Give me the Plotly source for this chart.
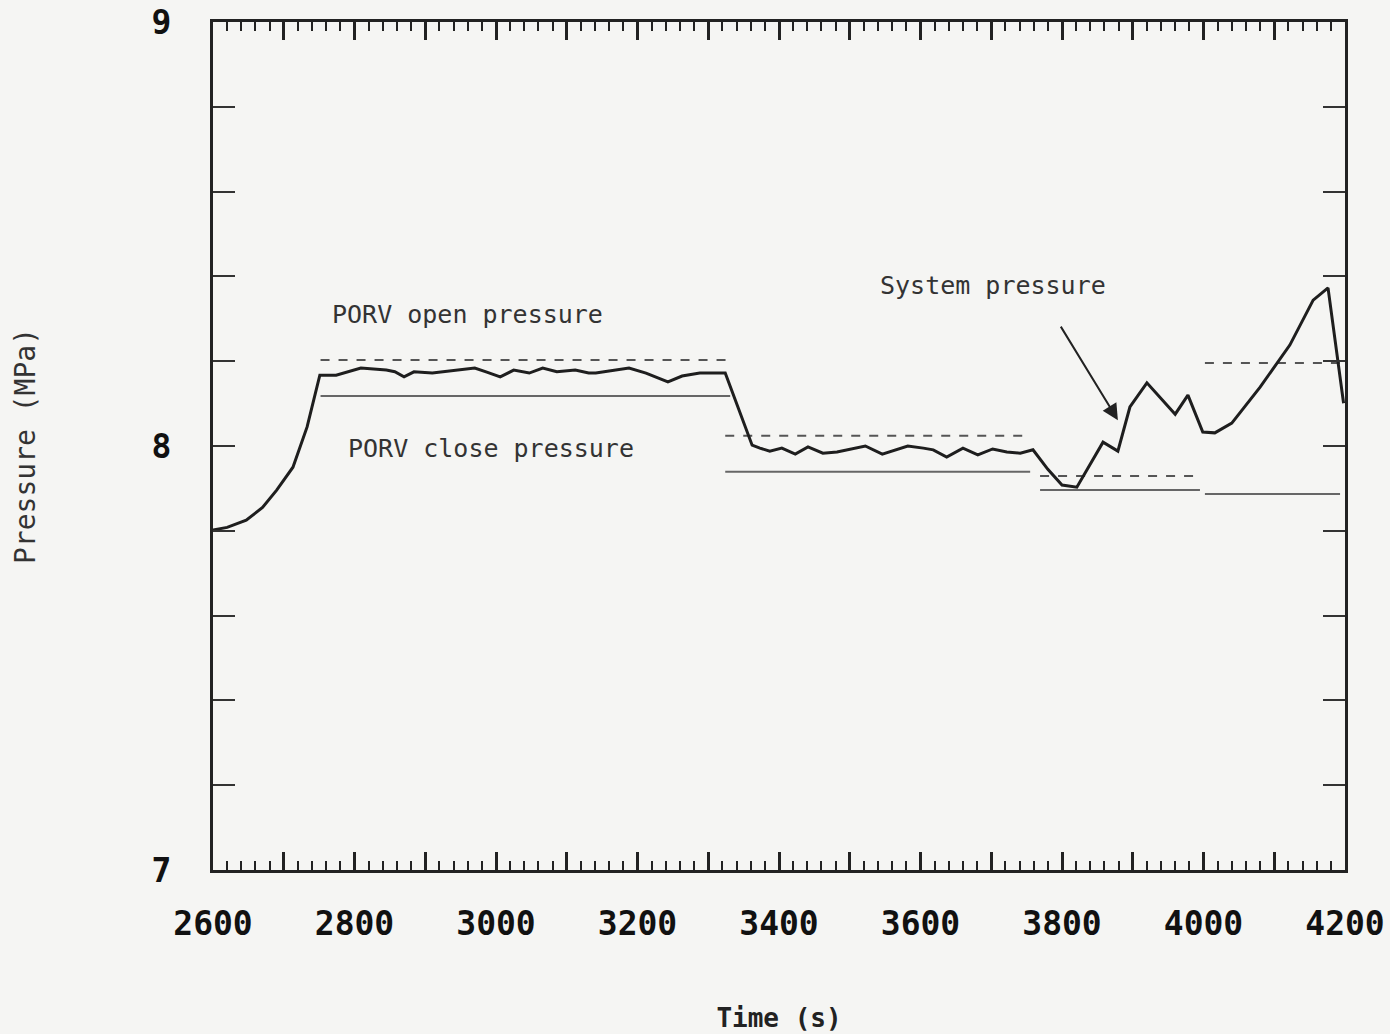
import plotly.graph_objects as go

# System pressure curve (time s, pressure MPa)
time_s = [2600, 2620, 2647, 2670, 2690, 2713, 2733, 2751, 2774, 2809, 2845, 2857, 2870, 2884,
          2910, 2945, 2970, 2986, 3006, 3025, 3047, 3066, 3086, 3112, 3131, 3141, 3188, 3212,
          3243, 3263, 3288, 3324, 3362, 3373, 3387, 3404, 3423, 3441, 3462, 3482, 3498, 3522,
          3546, 3564, 3582, 3604, 3618, 3637, 3660, 3681, 3702, 3722, 3741, 3759, 3780, 3800,
          3821, 3858, 3879, 3896, 3920, 3960, 3978, 3999, 4016, 4040, 4080, 4122, 4155, 4176,
          4198]
pressure = [7.802, 7.808, 7.825, 7.855, 7.896, 7.950, 8.045, 8.167, 8.167, 8.184, 8.179, 8.175,
            8.163, 8.175, 8.172, 8.179, 8.184, 8.175, 8.163, 8.179, 8.172, 8.184, 8.175, 8.179,
            8.172, 8.172, 8.184, 8.172, 8.151, 8.165, 8.172, 8.172, 8.002, 7.995, 7.988, 7.995,
            7.981, 7.998, 7.983, 7.986, 7.991, 8.000, 7.981, 7.991, 8.000, 7.995, 7.991, 7.974,
            7.995, 7.979, 7.993, 7.986, 7.983, 7.991, 7.945, 7.908, 7.903, 8.009, 7.988, 8.092,
            8.149, 8.075, 8.120, 8.033, 8.031, 8.054, 8.139, 8.238, 8.344, 8.373, 8.101]

# PORV set points per interval: (start, end, open, close)
seg_start = [2752, 3324, 3769, 4002]
seg_end = [3331, 3755, 3995, 4193]
porv_open = [8.203, 8.024, 7.929, 8.196]
porv_close = [8.118, 7.939, 7.896, 7.887]

x_major = list(range(2600, 4201, 100))
x_labels = [str(v) if v % 200 == 0 else "" for v in x_major]
y_major = [7.0, 7.2, 7.4, 7.6, 7.8, 8.0, 8.2, 8.4, 8.6, 8.8, 9.0]
y_labels = ["7", "", "", "", "", "8", "", "", "", "", "9"]

fig = go.Figure()

for s, e, po, pc in zip(seg_start, seg_end, porv_open, porv_close):
    fig.add_trace(go.Scatter(x=[s, e], y=[po, po], mode="lines",
                             line=dict(color="#555555", width=2, dash="dash"),
                             showlegend=False, hoverinfo="skip"))
    fig.add_trace(go.Scatter(x=[s, e], y=[pc, pc], mode="lines",
                             line=dict(color="#666666", width=2),
                             showlegend=False, hoverinfo="skip"))

fig.add_trace(go.Scatter(x=time_s, y=pressure, mode="lines",
                         line=dict(color="#1e1e1e", width=3),
                         showlegend=False))

ann_font = dict(family="DejaVu Sans Mono", size=25, color="#333333")
fig.add_annotation(x=2765, y=8.31, text="PORV open pressure", showarrow=False,
                   xanchor="left", font=ann_font)
fig.add_annotation(x=2788, y=7.995, text="PORV close pressure", showarrow=False,
                   xanchor="left", font=ann_font)
fig.add_annotation(x=3540, y=8.378, text="System pressure", showarrow=False,
                   xanchor="left", font=ann_font)
fig.add_annotation(x=3879, y=8.061, ax=-58, ay=-95, text="", showarrow=True,
                   arrowhead=2, arrowsize=1.6, arrowwidth=2, arrowcolor="#222222")

tick_font = dict(family="DejaVu Sans Mono", size=33, color="#111111", weight="bold")

fig.update_xaxes(range=[2600, 4200], tickmode="array", tickvals=x_major, ticktext=x_labels,
                 ticks="inside", ticklen=18, tickwidth=2.5, tickcolor="#222222",
                 minor=dict(dtick=20, ticks="inside", ticklen=9, tickwidth=2, tickcolor="#222222"),
                 showline=True, linecolor="#222222", linewidth=3, mirror="ticks",
                 showgrid=False, zeroline=False, tickfont=tick_font, ticklabelstandoff=22,
                 automargin=False,
                 title=dict(text="<b>Time (s)</b>", font=dict(family="DejaVu Sans Mono", size=26,
                            color="#222222"), standoff=68))
fig.update_yaxes(range=[7, 9], tickmode="array", tickvals=y_major, ticktext=y_labels,
                 ticks="inside", ticklen=22, tickwidth=2, tickcolor="#333333",
                 showline=True, linecolor="#222222", linewidth=3, mirror="ticks",
                 showgrid=False, zeroline=False, tickfont=tick_font, ticklabelstandoff=32,
                 automargin=False,
                 title=dict(text="Pressure (MPa)", font=dict(family="DejaVu Sans Mono", size=28,
                            color="#333333"), standoff=108))

fig.update_layout(width=1390, height=1034, margin=dict(l=213, r=45, t=22, b=164),
                  paper_bgcolor="#f5f5f3", plot_bgcolor="#f5f5f3",
                  font=dict(family="DejaVu Sans Mono"))

fig.write_html("out.html")
